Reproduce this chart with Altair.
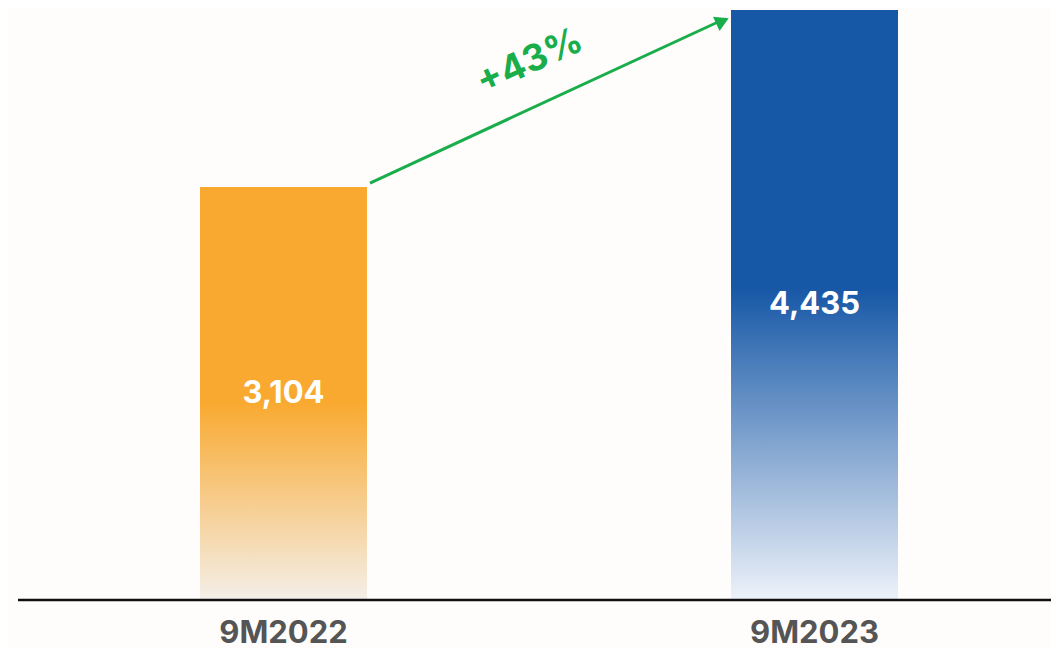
import altair as alt
import pandas as pd

periods = ["9M2022", "9M2023"]
values = [3104, 4435]
labels = ["3,104", "4,435"]

growth = round((values[1] / values[0] - 1) * 100)
growth_text = f"+{growth}%"

bars = pd.DataFrame({"period": periods, "value": values, "label": labels})
arrow = pd.DataFrame({
    "start": [periods[0]], "end": [periods[1]],
    "v0": [values[0]], "v1": [values[1]], "txt": [growth_text],
})

W, H = 1043, 592
x_scale = alt.Scale(domain=periods, range=[192, 890], paddingInner=0.6855, paddingOuter=0)
y_scale = alt.Scale(domain=[0, 4450], nice=False)

orange_grad = alt.Gradient(
    gradient="linear", x1=0, y1=0, x2=0, y2=1,
    stops=[alt.GradientStop(color="#F9A92F", offset=0),
           alt.GradientStop(color="#F9A92F", offset=0.52),
           alt.GradientStop(color="#F4EFE9", offset=1)])
blue_grad = alt.Gradient(
    gradient="linear", x1=0, y1=0, x2=0, y2=1,
    stops=[alt.GradientStop(color="#1657A6", offset=0),
           alt.GradientStop(color="#1657A6", offset=0.47),
           alt.GradientStop(color="#EDF2F9", offset=1)])

base = alt.Chart(bars)

x_enc = alt.X("period:N", scale=x_scale, sort=periods,
              axis=alt.Axis(title=None, domain=False, ticks=False, grid=False, labelAngle=0,
                            labelFont="Inter", labelFontWeight="bold", labelFontSize=31,
                            labelColor="#555555", labelPadding=18, labelBaseline="top"))
y_enc = alt.Y("value:Q", scale=y_scale, axis=None)

bar1 = base.transform_filter(alt.datum.period == periods[0]).mark_bar(
    color=orange_grad).encode(x=x_enc, y=y_enc)
bar2 = base.transform_filter(alt.datum.period == periods[1]).mark_bar(
    color=blue_grad).encode(x=x_enc, y=y_enc)

text = base.transform_calculate(mid="datum.value / 2").mark_text(
    font="Inter", fontWeight="bold", fontSize=31, color="white", baseline="middle"
).encode(x=alt.X("period:N", scale=x_scale, sort=periods),
         y=alt.Y("mid:Q", scale=y_scale), text="label:N")

baseline = alt.Chart(pd.DataFrame({"z": [0]})).mark_rule(
    color="#111111", strokeWidth=2.5
).encode(x=alt.value(10), x2=alt.value(W), y=alt.Y("z:Q", scale=y_scale))

arr = alt.Chart(arrow)
arrow_line = arr.mark_rule(color="#19AD4C", strokeWidth=3, xOffset=3, x2Offset=-90,
                           yOffset=-4, y2Offset=9).encode(
    x=alt.X("start:N", scale=x_scale, sort=periods, bandPosition=1),
    x2=alt.X2("end:N"),
    y=alt.Y("v0:Q", scale=y_scale),
    y2=alt.Y2("v1:Q"))
arrow_head = arr.mark_point(shape="triangle-up", filled=True, opacity=1,
                            color="#19AD4C", size=250, angle=65.4,
                            xOffset=-8.5, yOffset=11).encode(
    x=alt.X("end:N", scale=x_scale, sort=periods, bandPosition=0),
    y=alt.Y("v1:Q", scale=y_scale))
arrow_text = arr.mark_text(font="Inter", fontWeight="bold", fontSize=37, color="#19AD4C",
                           angle=335.4, align="center", baseline="middle",
                           xOffset=163, yOffset=52).encode(
    x=alt.X("start:N", scale=x_scale, sort=periods, bandPosition=1),
    y=alt.Y("v1:Q", scale=y_scale), text="txt:N")

chart = alt.layer(bar1, bar2, text, baseline, arrow_line, arrow_head, arrow_text).properties(
    width=W, height=H,
    autosize=alt.AutoSizeParams(type="none"),
    padding={"left": 0, "top": 0, "right": 0, "bottom": 48},
    background="#FFFDFB",
).configure_view(stroke=None)

chart.save("out.html", embed_options={"renderer": "svg", "actions": False})
